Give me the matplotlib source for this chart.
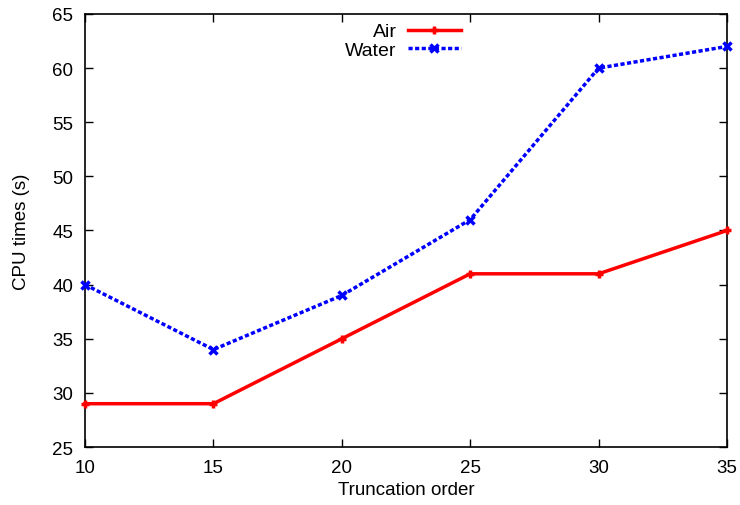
import matplotlib
matplotlib.use("Agg")
import matplotlib.pyplot as plt

plt.rcParams['font.family'] = ['Liberation Sans', 'DejaVu Sans']

# data
order = [10, 15, 20, 25, 30, 35]
air = [29, 29, 35, 41, 41, 45]
water = [40, 34, 39, 46, 60, 62]

fig = plt.figure(figsize=(7.4, 5.06), dpi=100)
ax = fig.add_axes([0.1149, 0.1146, 0.9824 - 0.1149, 0.9704 - 0.1146])

ax.plot(order, air, color='#ff0000', lw=2.5, marker='+', ms=6, mew=2.5,
        label='Air', clip_on=False, zorder=3)
ax.plot(order, water, color='#0000ff', lw=2.5, ls=(0, (1.2, 0.7)), marker='x', ms=6, mew=2.5,
        label='Water', clip_on=False, zorder=3)

ax.set_xlim(10, 35)
ax.set_ylim(25, 65)
ax.set_xticks(order)
ax.set_yticks(range(25, 66, 5))
ax.tick_params(direction='in', top=True, right=True, length=6, width=1, labelsize=13.5, pad=8.5)
for s in ax.spines.values():
    s.set_linewidth(1.2)

ax.set_xlabel('Truncation order', fontsize=13.5, labelpad=4)
ax.set_ylabel('CPU times (s)', fontsize=13.5, labelpad=16)

ax.legend(loc='upper center', bbox_to_anchor=(0.495, 1.02), frameon=False, markerfirst=False,
          fontsize=14, handlelength=2.7, labelspacing=0.05, handletextpad=0.6)

fig.savefig('out.png', dpi=100)
